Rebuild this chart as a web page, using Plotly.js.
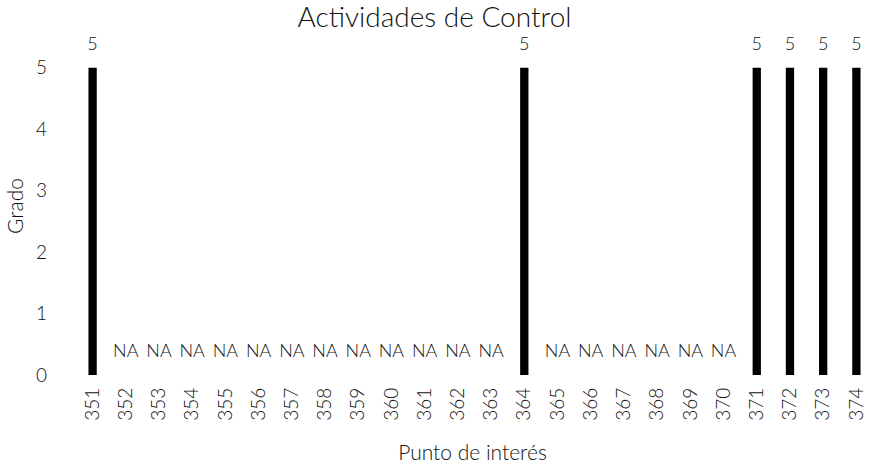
<!DOCTYPE html>
<html><head><meta charset="utf-8">
<script src="https://cdn.plot.ly/plotly-3.0.1.min.js"></script>
<style>html,body{margin:0;padding:0;background:#fff}</style>
</head><body><div id="c" style="width:869px;height:464px"></div>
<script>
const categories = ['351','352','353','354','355','356','357','358','359','360','361','362','363','364','365','366','367','368','369','370','371','372','373','374'];
const grado = [5,null,null,null,null,null,null,null,null,null,null,null,null,5,null,null,null,null,null,null,5,5,5,5];
const naLabel = 'NA';

const fam = 'Lato, Open Sans, sans-serif';
const labelOffset = 0.37;
const labelY = grado.map(v => (v === null ? 0 : v) + labelOffset);
const labelText = grado.map(v => v === null ? naLabel : String(v));

const data = [
  {type:'bar', x:categories, y:grado, width:0.25, marker:{color:'#000'}, hoverinfo:'x+y'},
  {type:'scatter', mode:'text', x:categories, y:labelY, text:labelText,
   textfont:{size:18, color:'#111', family:fam, weight:300}, hoverinfo:'skip', cliponaxis:false}
];
const layout = {
  width:869, height:464, showlegend:false,
  margin:{l:76, r:0, t:37, b:89},
  paper_bgcolor:'#fff', plot_bgcolor:'#fff',
  font:{family:fam, size:18, color:'#111', weight:300},
  title:{text:'Actividades de Control', x:0.5, xanchor:'center', y:0.962, yanchor:'middle', font:{size:28, color:'#111', weight:300}},
  xaxis:{type:'category', range:[-0.5,23.38], tickangle:-90, showgrid:false, zeroline:false, showline:false, ticks:'',
         tickfont:{size:19, weight:300}, ticklabelstandoff:8, title:{text:'Punto de interés', font:{size:21, weight:300}, standoff:26}},
  yaxis:{range:[0,5.5], tickvals:[0,1,2,3,4,5], showgrid:false, zeroline:false, showline:false, ticks:'',
         tickfont:{size:19, weight:300}, ticklabelstandoff:28, title:{text:'Grado', font:{size:21, weight:300}, standoff:6}},
  bargap:0.75
};
Plotly.newPlot('c', data, layout, {displayModeBar:false, staticPlot:true});
</script></body></html>
